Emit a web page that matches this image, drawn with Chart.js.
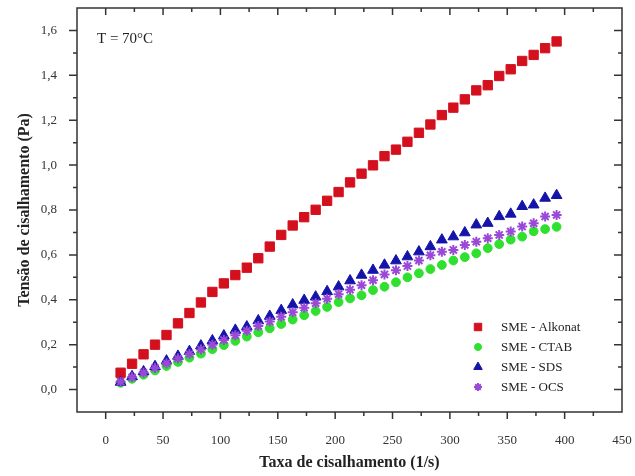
<!DOCTYPE html>
<html>
<head>
<meta charset="utf-8">
<script src="https://cdn.jsdelivr.net/npm/chart.js@4/dist/chart.umd.min.js"></script>
<style>
  html, body { margin: 0; padding: 0; background: #fff; }
  #wrap { width: 635px; height: 476px; }
</style>
</head>
<body>
<div id="wrap"><canvas id="chart"></canvas></div>
<script>
// shear rate (1/s)
const shearRate = [13, 23, 33, 43, 53, 63, 73, 83, 93, 103, 113, 123, 133, 143, 153, 163, 173, 183, 193,
  203, 213, 223, 233, 243, 253, 263, 273, 283, 293, 303, 313, 323, 333, 343, 353, 363, 373, 383, 393];

// shear stress (Pa)
const alkonat = [0.075, 0.115, 0.157, 0.200, 0.243, 0.295, 0.341, 0.388, 0.435, 0.473, 0.510, 0.543, 0.585,
  0.637, 0.689, 0.731, 0.768, 0.801, 0.841, 0.880, 0.923, 0.962, 0.999, 1.040, 1.069, 1.104, 1.144,
  1.181, 1.223, 1.256, 1.293, 1.333, 1.356, 1.397, 1.427, 1.464, 1.491, 1.521, 1.551];
const ctab = [0.030, 0.048, 0.066, 0.085, 0.105, 0.123, 0.142, 0.160, 0.180, 0.198, 0.217, 0.236, 0.255,
  0.273, 0.292, 0.312, 0.331, 0.350, 0.368, 0.390, 0.406, 0.420, 0.443, 0.458, 0.478, 0.500, 0.518,
  0.537, 0.555, 0.575, 0.590, 0.607, 0.630, 0.648, 0.668, 0.681, 0.705, 0.715, 0.725];
const sds = [0.033, 0.058, 0.080, 0.103, 0.128, 0.149, 0.170, 0.195, 0.218, 0.240, 0.265, 0.280, 0.307,
  0.327, 0.353, 0.378, 0.398, 0.413, 0.437, 0.458, 0.485, 0.510, 0.532, 0.555, 0.574, 0.592, 0.614,
  0.637, 0.667, 0.681, 0.699, 0.734, 0.741, 0.771, 0.782, 0.816, 0.823, 0.853, 0.865];
const ocs = [0.035, 0.055, 0.075, 0.096, 0.117, 0.138, 0.158, 0.179, 0.200, 0.221, 0.242, 0.262, 0.283,
  0.303, 0.324, 0.344, 0.365, 0.385, 0.405, 0.425, 0.445, 0.465, 0.487, 0.513, 0.532, 0.550, 0.575,
  0.598, 0.614, 0.622, 0.644, 0.659, 0.674, 0.689, 0.704, 0.726, 0.741, 0.771, 0.778];

const seriesNames = ['SME - Alkonat', 'SME - CTAB', 'SME - SDS', 'SME - OCS'];

const xTicks = [0, 50, 100, 150, 200, 250, 300, 350, 400, 450];
const xMinorTicks = [25, 75, 125, 175, 225, 275, 325, 375, 425];
const yTicks = [0, 0.2, 0.4, 0.6, 0.8, 1.0, 1.2, 1.4, 1.6];
const yMinorTicks = [0.1, 0.3, 0.5, 0.7, 0.9, 1.1, 1.3, 1.5];

const serif = '"Liberation Serif", "DejaVu Serif", serif';

function pts(ys) {
  return ys.map((v, i) => ({ x: shearRate[i], y: v }));
}

// markers
const styles = [
  { pointStyle: 'rect', radius: 6.6, color: '#d4101e', border: '#d4101e' },
  { pointStyle: 'circle', radius: 4.4, color: '#2fe02f', border: '#2fe02f' },
  { pointStyle: 'triangle', radius: 6.2, color: '#1414a8', border: '#1414a8' },
  { pointStyle: 'star', radius: 5, color: '#b070e8', border: '#9a48d8' }
];

// frame with ticks on four sides
const frame = {
  id: 'frame',
  afterDraw(chart) {
    const { ctx, chartArea: a, scales: { x, y } } = chart;
    ctx.save();
    ctx.strokeStyle = '#333';
    ctx.lineWidth = 1.5;
    ctx.strokeRect(a.left, a.top, a.right - a.left, a.bottom - a.top);
    ctx.beginPath();
    const xt = (v, len) => {
      const px = x.getPixelForValue(v);
      ctx.moveTo(px, a.bottom); ctx.lineTo(px, a.bottom + len);
      ctx.moveTo(px, a.top); ctx.lineTo(px, a.top + len);
    };
    const yt = (v, len) => {
      const py = y.getPixelForValue(v);
      ctx.moveTo(a.left, py); ctx.lineTo(a.left - len, py);
      ctx.moveTo(a.right, py); ctx.lineTo(a.right - len, py);
    };
    xTicks.forEach(v => { if (v < 450) xt(v, 7); });
    xMinorTicks.forEach(v => xt(v, 4));
    yTicks.forEach(v => yt(v, 8));
    yMinorTicks.forEach(v => yt(v, 4));
    ctx.stroke();

    // temperature note
    ctx.fillStyle = '#222';
    ctx.font = '15px ' + serif;
    ctx.textBaseline = 'middle';
    ctx.textAlign = 'left';
    ctx.fillText('T = 70°C', 97, 39);
    ctx.restore();
  }
};

// legend inside the plot, lower right
const insideLegend = {
  id: 'insideLegend',
  afterDraw(chart) {
    const { ctx } = chart;
    ctx.save();
    ctx.font = '13px ' + serif;
    ctx.textBaseline = 'middle';
    ctx.textAlign = 'left';
    seriesNames.forEach((name, i) => {
      const yy = 327 + i * 20;
      const s = styles[i];
      ctx.fillStyle = s.color;
      ctx.strokeStyle = s.border;
      ctx.lineWidth = i === 3 ? 2 : 1;
      Chart.helpers.drawPoint(ctx, { pointStyle: s.pointStyle, radius: s.radius * 0.8, rotation: 0, borderWidth: ctx.lineWidth }, 478, yy);
      ctx.fillStyle = '#222';
      ctx.fillText(name, 501, yy + 1);
    });
    ctx.restore();
  }
};

const allSeries = [alkonat, ctab, sds, ocs];

new Chart(document.getElementById('chart'), {
  type: 'scatter',
  data: {
    datasets: allSeries.map((ys, i) => ({
      label: seriesNames[i],
      data: pts(ys),
      pointStyle: styles[i].pointStyle,
      pointRadius: styles[i].radius,
      pointHoverRadius: styles[i].radius,
      backgroundColor: styles[i].color,
      borderColor: styles[i].border,
      borderWidth: i === 3 ? 2 : 1,
      order: 4 - i
    }))
  },
  options: {
    responsive: true,
    maintainAspectRatio: false,
    animation: false,
    layout: { padding: { top: 8, right: 13, left: 0, bottom: 0 } },
    plugins: {
      legend: { display: false },
      tooltip: { enabled: false }
    },
    scales: {
      x: {
        type: 'linear',
        min: -25,
        max: 450,
        grid: { display: false },
        border: { display: false },
        afterBuildTicks: s => { s.ticks = xTicks.map(v => ({ value: v })); },
        afterFit: s => { s.height = 64; s.paddingLeft = 0; s.paddingRight = 0; },
        ticks: {
          padding: 13,
          color: '#333',
          font: { family: serif, size: 13 },
          callback: v => String(v)
        },
        title: {
          display: true,
          text: 'Taxa de cisalhamento (1/s)',
          color: '#222',
          font: { family: serif, size: 16, weight: 'bold' },
          padding: { top: 0, bottom: 4 }
        }
      },
      y: {
        type: 'linear',
        min: -0.1,
        max: 1.7,
        grid: { display: false },
        border: { display: false },
        afterBuildTicks: s => { s.ticks = yTicks.map(v => ({ value: v })); },
        afterFit: s => { s.width = 77; s.paddingTop = 0; s.paddingBottom = 0; },
        ticks: {
          padding: 12,
          color: '#333',
          font: { family: serif, size: 13 },
          callback: v => v.toFixed(1).replace('.', ',')
        },
        title: {
          display: true,
          text: 'Tensão de cisalhamento (Pa)',
          color: '#222',
          font: { family: serif, size: 16, weight: 'bold' },
          padding: { top: 15, bottom: 0 }
        }
      }
    }
  },
  plugins: [frame, insideLegend]
});
</script>
</body>
</html>
